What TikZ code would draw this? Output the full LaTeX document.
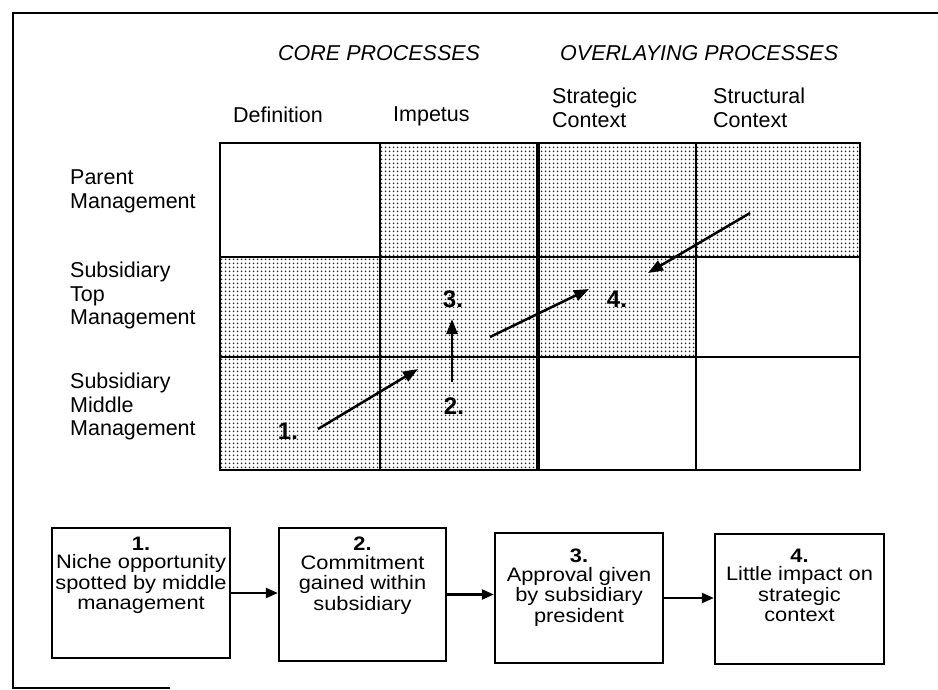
\documentclass[tikz,border=0pt]{standalone}
\usepackage{fontspec}
\setmainfont{Liberation Sans}
\newfontfamily\widefont{Liberation Sans}[FakeStretch=1.12]
\usetikzlibrary{arrows.meta,patterns.meta}

% fine dot screen used for the shaded cells
\tikzdeclarepattern{
  name=stipple,
  type=uncolored,
  bottom left={(0pt,0pt)},
  top right={(4pt,4pt)},
  tile size={(4pt,4pt)},
  code={\pgfpathcircle{\pgfqpoint{2pt}{2pt}}{1.1pt}\pgfusepath{fill}}
}

\begin{document}
\begin{tikzpicture}[x=1pt,y=-1pt,
  txt/.style={font=\fontsize{21.5}{23.5}\selectfont, inner sep=0pt, align=left},
  head/.style={font=\fontsize{21.5}{23.5}\selectfont\itshape, inner sep=0pt},
  num/.style={font=\fontsize{24}{26}\selectfont\bfseries, inner sep=0pt},
  shade/.style={pattern=stipple, pattern color=black!85},
  gridline/.style={line width=2.5pt},
  divider/.style={line width=4pt},
  flow/.style={line width=2.5pt, -{Triangle[length=15pt,width=11pt]}},
  stepbox/.style={draw, line width=2.3pt, inner sep=0pt},
  boxtxt/.style={font=\widefont\fontsize{19.5}{20.5}\selectfont, inner sep=0pt, align=center, anchor=north},
  link/.style={line width=2.3pt, -{Triangle[length=12pt,width=10pt]}}
]
\useasboundingbox (0,0) rectangle (938,689);

% page frame
\draw[line width=1.8pt] (170,688) -- (13,688) -- (13,13) -- (938,13);

% headings
\node[head, anchor=north west] (core) at (278,45) {CORE PROCESSES};
\node[head, anchor=north west] (over) at (560,45) {OVERLAYING PROCESSES};

% column labels
\node[txt, anchor=north west] (cdef) at (233,107) {Definition};
\node[txt, anchor=north west] (cimp) at (393,107) {Impetus};
\node[txt, anchor=north west] (cstr) at (552,88) {Strategic\\Context};
\node[txt, anchor=north west] (cstu) at (713,88) {Structural\\Context};

% row labels
\node[txt, anchor=north west] (rpar) at (70,170) {Parent\\Management};
\node[txt, anchor=north west] (rtop) at (70,262) {Subsidiary\\Top\\Management};
\node[txt, anchor=north west] (rmid) at (70,373) {Subsidiary\\Middle\\Management};

% shaded cells
\fill[shade] (380,143) rectangle (860,257);
\fill[shade] (220,257) rectangle (696,357);
\fill[shade] (220,357) rectangle (538,470);

% grid
\draw[gridline] (220,143) rectangle (860,470);
\draw[gridline] (380,143) -- (380,470);
\draw[gridline] (696,143) -- (696,470);
\draw[gridline] (220,257) -- (860,257);
\draw[gridline] (220,357) -- (860,357);
\draw[divider] (538,143) -- (538,470);

% step markers in the grid
\node[num] (n1) at (288,431) {1.};
\node[num] (n2) at (454,406) {2.};
\node[num] (n3) at (453,299) {3.};
\node[num] (n4) at (617,299) {4.};

\coordinate (a1s) at (318,429);
\coordinate (a1e) at (418,369);
\coordinate (a2s) at (452,382);
\coordinate (a2e) at (452,319);
\coordinate (a3s) at (490,337);
\coordinate (a3e) at (589,289);
\coordinate (a4s) at (750,213);
\coordinate (a4e) at (648,273);

\draw[flow] (a1s) -- (a1e);
\draw[flow] (a2s) -- (a2e);
\draw[flow] (a3s) -- (a3e);
\draw[flow] (a4s) -- (a4e);

% process boxes
\node[stepbox, minimum width=178pt, minimum height=130pt] (b1) at (141,593) {};
\node[stepbox, minimum width=167pt, minimum height=133pt] (b2) at (362.5,594.5) {};
\node[stepbox, minimum width=168pt, minimum height=130pt] (b3) at (579,598) {};
\node[stepbox, minimum width=169pt, minimum height=130pt] (b4) at (799.5,599) {};

\node[boxtxt] (t1) at ([yshift=-10pt]b1.north) {\textbf{1.}\\[-2pt]Niche opportunity\\spotted by middle\\management};
\node[boxtxt] (t2) at ([yshift=-10pt]b2.north) {\textbf{2.}\\[-2pt]Commitment\\gained within\\subsidiary};
\node[boxtxt] (t3) at ([yshift=-17pt]b3.north) {\textbf{3.}\\[-2pt]Approval given\\by subsidiary\\president};
\node[boxtxt] (t4) at ([yshift=-16pt]b4.north) {\textbf{4.}\\[-2pt]Little impact on\\strategic\\context};

\draw[link] (b1.east) -- (b1.east -| b2.west);
\draw[link] (b2.east) -- (b2.east -| b3.west);
\draw[link] (b3.east) -- (b3.east -| b4.west);
\end{tikzpicture}
\end{document}
